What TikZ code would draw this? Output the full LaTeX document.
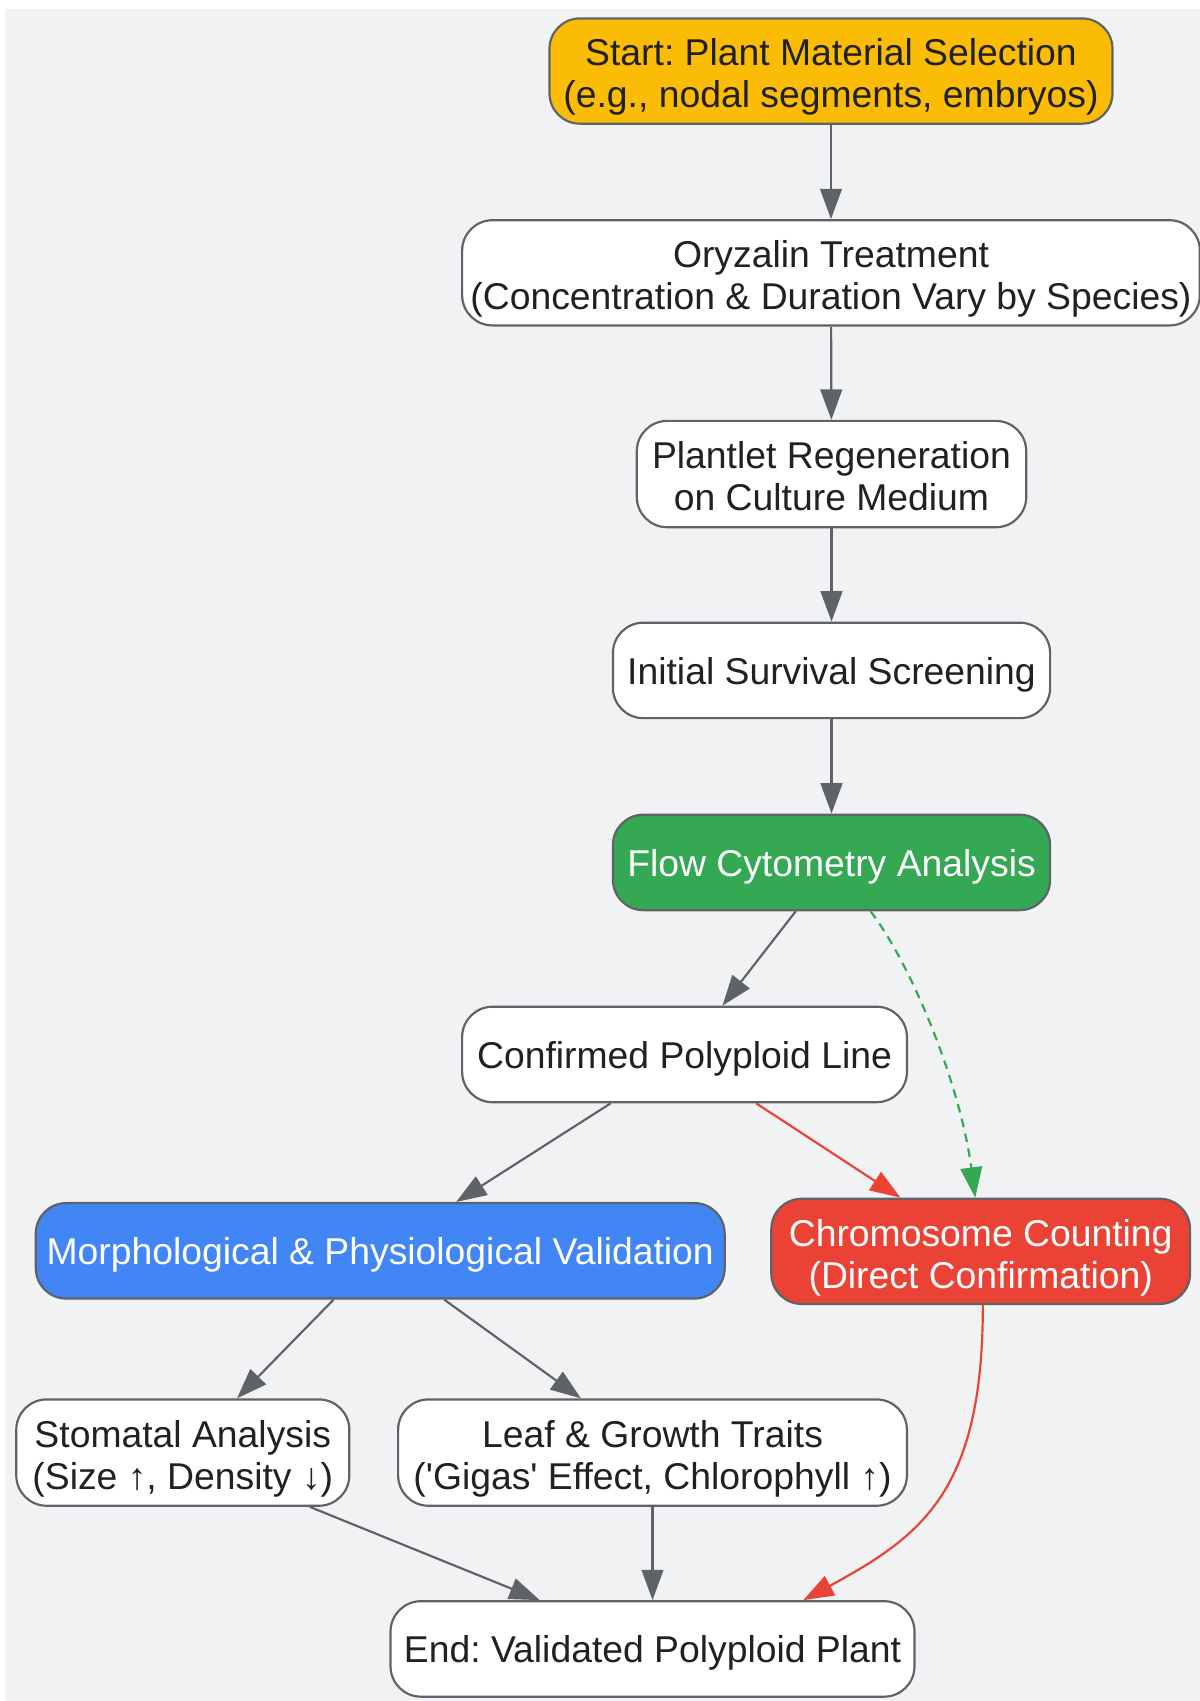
\documentclass[tikz,border=0pt]{standalone}
\usepackage{fontspec}
\setmainfont{Liberation Sans}[Ligatures=TeXOff]
\usetikzlibrary{arrows.meta,calc}
\definecolor{bgc}{HTML}{F1F2F4}
\definecolor{edgec}{HTML}{5F6368}
\definecolor{yel}{HTML}{FBBC05}
\definecolor{grn}{HTML}{34A853}
\definecolor{blu}{HTML}{4285F4}
\definecolor{rdc}{HTML}{EA4335}
\definecolor{txt}{HTML}{202124}
\newcommand{\bt}[2]{\raisebox{-#1}[\height][\depth]{\begin{tabular}{@{}c@{}}#2\end{tabular}}}
\newcommand{\one}[1]{\bt{2.45pt}{#1}}
\newcommand{\two}[1]{\bt{3.4pt}{#1}}
\begin{document}
\frenchspacing
\begin{tikzpicture}[x=0.5pt,y=-0.5pt,
  box/.style={draw=edgec, line width=1pt, rounded corners=14pt, fill=white, text=txt,
    inner sep=0pt, font=\fontsize{17.2pt}{19.4pt}\selectfont\frenchspacing},
  conn/.style={draw=edgec, line width=1pt, -{Triangle[length=14pt,width=10pt]}},
  redconn/.style={draw=rdc, line width=1pt, -{Triangle[length=14pt,width=10pt]}},
  grnconn/.style={draw=grn, line width=1pt, dash pattern=on 4pt off 3pt, -{Triangle[length=14pt,width=10pt]}}]
\useasboundingbox (0,0) rectangle (1106,1568);
\fill[bgc] (5,8) rectangle (1106,1568);

\node[box, fill=yel, minimum width=259.5pt, minimum height=48.5pt] (start) at (766,65.5)
  {\two{Start: Plant Material Selection\\(e.g., nodal segments, embryos)}};
\node[box, minimum width=340pt, minimum height=48.5pt] (ory) at (766,251.5)
  {\two{Oryzalin Treatment\\(Concentration \& Duration Vary by Species)}};
\node[box, minimum width=179.5pt, minimum height=49pt] (plant) at (766.5,437)
  {\two{Plantlet Regeneration\\on Culture Medium}};
\node[box, minimum width=201.5pt, minimum height=44pt] (surv) at (766.5,618)
  {\one{Initial Survival Screening}};
\node[box, fill=grn, text=white, minimum width=201.5pt, minimum height=44pt] (flow) at (766.5,795)
  {\one{Flow Cytometry Analysis}};
\node[box, minimum width=205pt, minimum height=44pt] (conf) at (631,972)
  {\one{Confirmed Polyploid Line}};
\node[box, fill=blu, text=white, minimum width=317.5pt, minimum height=44pt] (morph) at (350.5,1153)
  {\one{Morphological \& Physiological Validation}};
\node[box, fill=rdc, text=white, minimum width=193pt, minimum height=48.5pt] (chrom) at (904,1153.5)
  {\two{Chromosome Counting\\(Direct Confirmation)}};
\node[box, minimum width=153.5pt, minimum height=49pt] (stom) at (168.5,1339)
  {\two{Stomatal Analysis\\(Size ↑, Density ↓)}};
\node[box, minimum width=234.5pt, minimum height=49pt] (leaf) at (601.5,1339)
  {\two{Leaf \& Growth Traits\\('Gigas' Effect, Chlorophyll ↑)}};
\node[box, minimum width=241.5pt, minimum height=44pt] (endn) at (601.5,1520)
  {\one{End: Validated Polyploid Plant}};

\draw[conn] (start) -- (ory);
\draw[conn] (ory) -- (plant);
\draw[conn] (plant) -- (surv);
\draw[conn] (surv) -- (flow);
\draw[conn] ($(flow.south)+(-33,0)$) -- ($(conf.north)+(35,0)$);
\draw[grnconn] ($(flow.south)+(36,0)$) .. controls ($(flow.south)+(74,50)$) and ($(chrom.north)+(-19,-105)$) .. ($(chrom.north)+(-5,0)$);
\draw[conn] ($(conf.south)+(-68,0)$) -- ($(morph.north)+(70,0)$);
\draw[redconn] ($(conf.south)+(66,0)$) -- ($(chrom.north)+(-74,0)$);
\draw[conn] ($(morph.south)+(-43,0)$) -- ($(stom.north)+(50,0)$);
\draw[conn] ($(morph.south)+(59,0)$) -- ($(leaf.north)+(-66,0)$);
\draw[conn] ($(stom.south)+(117,0)$) -- ($(endn.north)+(-104,0)$);
\draw[conn] (leaf) -- (endn);
\draw[redconn] ($(chrom.south)+(2,0)$) .. controls ($(chrom.south)+(2,170)$) and ($(endn.north)+(250,-60)$) .. ($(endn.north)+(139,0)$);
\end{tikzpicture}
\end{document}
